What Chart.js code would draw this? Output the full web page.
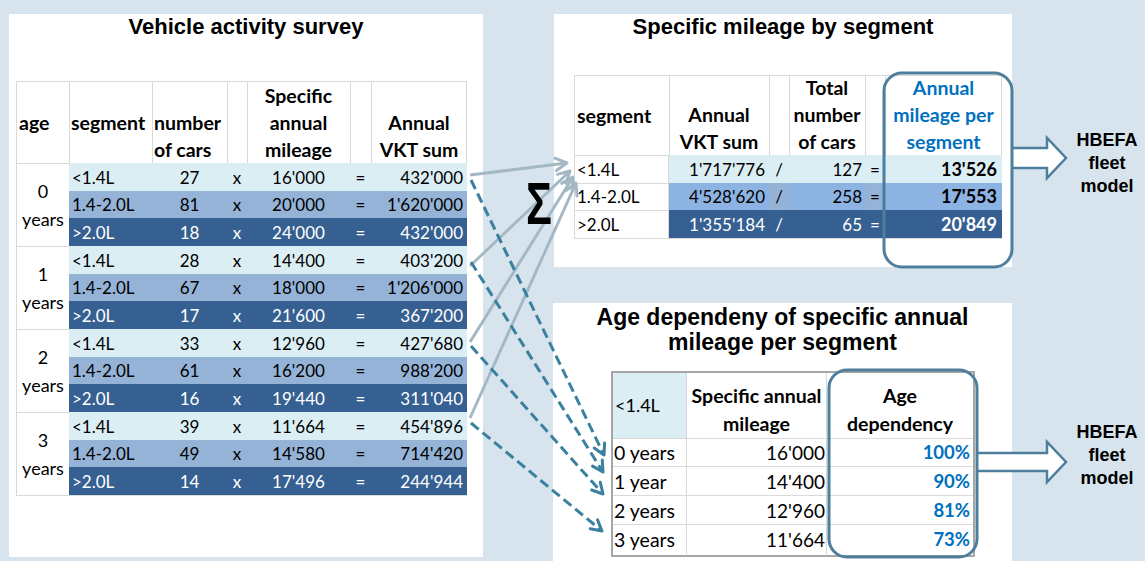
<!DOCTYPE html>
<html><head><meta charset="utf-8">
<script src="https://cdn.jsdelivr.net/npm/chart.js@4.4.1/dist/chart.umd.min.js"></script>
<style>
html,body{margin:0;padding:0;}
body{width:1145px;height:561px;background:#d7e4ed;position:relative;overflow:hidden;font-family:Lato,'Open Sans',sans-serif;}
#stage{position:absolute;left:0;top:0;width:1145px;height:561px;}
.panel{position:absolute;background:#fff;}
.title{position:absolute;font-family:'Liberation Sans',Arial,sans-serif;font-weight:bold;color:#000;text-align:center;white-space:nowrap;}
.c{position:absolute;box-sizing:border-box;display:flex;white-space:nowrap;font-size:17px;line-height:27px;color:#000;}
.frame{position:absolute;box-sizing:border-box;}
#ov{position:absolute;left:0;top:0;z-index:10;}
#sigma{z-index:20;}
</style></head><body>
<div id="stage"></div>
<canvas id="ov" width="1145" height="561" style="width:1145px;height:561px"></canvas>
<script>
// ---------------- data ----------------
const ageGroups = ['0', '1', '2', '3'];
const segmentNames = ['<1.4L', '1.4-2.0L', '>2.0L'];
const carCounts = [27, 81, 18, 28, 67, 17, 33, 61, 16, 39, 49, 14];
const specificMileage = [16000, 20000, 24000, 14400, 18000, 21600, 12960, 16200, 19440, 11664, 14580, 17496];
const annualVkt = [432000, 1620000, 432000, 403200, 1206000, 367200, 427680, 988200, 311040, 454896, 714420, 244944];
const segmentVktSum = [1717776, 4528620, 1355184];
const segmentCarTotal = [127, 258, 65];
const segmentMileage = [13526, 17553, 20849];
const ageRowLabels = ['0 years', '1 year', '2 years', '3 years'];
const smallSegmentMileage = [16000, 14400, 12960, 11664];
const ageDependency = [100, 90, 81, 73];

// ---------------- helpers ----------------
const W = 1145, H = 561;
const stage = document.getElementById('stage');
const fmt = n => String(n).replace(/\B(?=(\d{3})+(?!\d))/g, "'");
const GRID = '#d9d9d9';
const HEAD = 19.5;
const rowBg = ['#dbeef4', '#95b3d7', '#366092'];
const rowBgVal = ['#dbeef4', '#8db3e2', '#366092'];
const rowFg = ['#000', '#000', '#fff'];

function box(cls, x, y, w, h, html, css) {
  const d = document.createElement('div');
  d.className = cls;
  Object.assign(d.style, {left: x + 'px', top: y + 'px', width: w + 'px', height: h + 'px'}, css || {});
  if (html !== undefined) d.innerHTML = html;
  document.body.appendChild(d);
  return d;
}
function cell(x, y, w, h, text, o) {
  o = o || {};
  const ha = o.ha || 'left', va = o.va || 'middle';
  const css = {
    justifyContent: ha === 'left' ? 'flex-start' : ha === 'center' ? 'center' : 'flex-end',
    alignItems: va === 'bottom' ? 'flex-end' : 'center',
    textAlign: ha,
    background: o.bg || 'transparent',
    color: o.color || '#000',
    fontWeight: o.bold ? 'bold' : 'normal',
    paddingLeft: (o.pl || 0) + 'px',
    paddingRight: (o.pr || 0) + 'px'
  };
  if (o.size) css.fontSize = o.size + 'px';
  if (o.lh) css.lineHeight = o.lh + 'px';
  if (o.br) css.borderRight = o.br;
  if (o.bb) css.borderBottom = o.bb;
  if (o.bl) css.borderLeft = o.bl;
  return box('c', x, y, w, h, '<div>' + text + '</div>', css);
}
const esc = s => s.replace(/&/g, '&amp;').replace(/</g, '&lt;').replace(/>/g, '&gt;');

// ---------------- panels & titles ----------------
box('panel', 9, 14, 474, 543);
box('panel', 554, 14, 458, 253);
box('panel', 553, 303, 459, 258);
box('title', 9, 16, 474, 22, 'Vehicle activity survey', {fontSize: '22px', lineHeight: '22px'});
box('title', 554, 16, 458, 22, 'Specific mileage by segment', {fontSize: '22px', lineHeight: '22px'});
box('title', 553, 305, 459, 50, 'Age dependeny of specific annual<br>mileage per segment', {fontSize: '23px', lineHeight: '25px'});
box('title', 1060, 129, 94, 70, 'HBEFA<br>fleet<br>model', {fontSize: '18px', lineHeight: '23px'});
box('title', 1060, 421, 94, 70, 'HBEFA<br>fleet<br>model', {fontSize: '18px', lineHeight: '23px'});
box('title', 526, 174, 40, 60, '\u03A3', {fontSize: '60px', lineHeight: '60px', textAlign: 'left', transform: 'scaleX(0.72)', transformOrigin: 'left top'}).id = 'sigma';

// ---------------- left table: vehicle activity survey ----------------
const LT = {cols: [16, 69, 152, 227, 247, 350, 371, 467], top: 81, head: 163, bottom: 495};
const ltRowH = (LT.bottom - LT.head) / (ageGroups.length * segmentNames.length);
box('frame', LT.cols[0], LT.top, LT.cols[7] - LT.cols[0], LT.bottom - LT.top + 1, '', {border: '1px solid ' + GRID});
const ltHead = [
  {t: 'age', ha: 'left', va: 'middle', pl: 3},
  {t: 'segment', ha: 'left', va: 'middle', pl: 2},
  {t: 'number<br>of cars', ha: 'left', va: 'bottom', pl: 2},
  {t: ''},
  {t: 'Specific<br>annual<br>mileage', ha: 'center', va: 'bottom'},
  {t: ''},
  {t: 'Annual<br>VKT sum', ha: 'center', va: 'bottom'}
];
ltHead.forEach((h, c) => {
  cell(LT.cols[c], LT.top, LT.cols[c + 1] - LT.cols[c] + (c < 6 ? 1 : 0), LT.head - LT.top + 1, h.t,
    {ha: h.ha, va: h.va, pl: h.pl, bold: true, size: HEAD, br: c < 6 ? '1px solid ' + GRID : null, bb: '1px solid ' + GRID});
});
for (let r = 0; r < carCounts.length; r++) {
  const seg = r % segmentNames.length;
  const y0 = Math.round(LT.head + r * ltRowH), y1 = Math.round(LT.head + (r + 1) * ltRowH);
  const vals = [esc(segmentNames[seg]), carCounts[r], 'x', fmt(specificMileage[r]), '=', fmt(annualVkt[r])];
  const al = ['left', 'center', 'center', 'center', 'center', 'right'];
  for (let c = 1; c <= 6; c++) {
    cell(LT.cols[c], y0, LT.cols[c + 1] - LT.cols[c], y1 - y0, vals[c - 1],
      {ha: al[c - 1], bg: rowBg[seg], color: rowFg[seg], pl: c === 1 ? 3 : 0, pr: c === 6 ? 4 : 0});
  }
}
ageGroups.forEach((a, g) => {
  const n = segmentNames.length;
  const y0 = Math.round(LT.head + g * n * ltRowH), y1 = Math.round(LT.head + (g + 1) * n * ltRowH);
  cell(LT.cols[0], y0, LT.cols[1] - LT.cols[0], y1 - y0 + 1, a + '<br>years',
    {ha: 'center', lh: 28, size: 18, bb: '1px solid ' + GRID, bl: '1px solid ' + GRID});
});

// ---------------- top right table: specific mileage by segment ----------------
const ST = {cols: [574, 669, 769, 789, 865, 885, 1002], top: 75, head: 155, bottom: 238};
const stRowH = (ST.bottom - ST.head) / segmentNames.length;
box('frame', ST.cols[0], ST.top, ST.cols[6] - ST.cols[0], ST.bottom - ST.top + 1, '', {border: '1px solid ' + GRID});
const stHead = [
  {t: 'segment', ha: 'left', va: 'middle', pl: 3},
  {t: 'Annual<br>VKT sum', ha: 'center', va: 'bottom'},
  {t: ''},
  {t: 'Total<br>number<br>of cars', ha: 'center', va: 'bottom'},
  {t: ''},
  {t: 'Annual<br>mileage per<br>segment', ha: 'center', va: 'bottom', color: '#0070c0'}
];
stHead.forEach((h, c) => {
  cell(ST.cols[c], ST.top, ST.cols[c + 1] - ST.cols[c] + (c < 5 ? 1 : 0), ST.head - ST.top + 1, h.t,
    {ha: h.ha, va: h.va, pl: h.pl, bold: true, size: HEAD, color: h.color, br: c < 5 ? '1px solid ' + GRID : null, bb: '1px solid ' + GRID});
});
segmentNames.forEach((s, r) => {
  const y0 = Math.round(ST.head + r * stRowH), y1 = Math.round(ST.head + (r + 1) * stRowH);
  cell(ST.cols[0], y0, ST.cols[1] - ST.cols[0], y1 - y0 + 1, esc(s), {pl: 3, br: '1px solid ' + GRID, bb: '1px solid ' + GRID});
  const vals = [fmt(segmentVktSum[r]), '/', segmentCarTotal[r], '=', fmt(segmentMileage[r])];
  const al = ['right', 'center', 'right', 'center', 'right'];
  const pr = [4, 0, 3, 0, 5];
  for (let c = 1; c <= 5; c++) {
    const isSep = (c === 2 || c === 4);
    cell(ST.cols[c], y0, ST.cols[c + 1] - ST.cols[c], y1 - y0, vals[c - 1],
      {ha: al[c - 1], pr: pr[c - 1], bg: isSep ? rowBg[r] : rowBgVal[r], color: rowFg[r], bold: c === 5, size: c === 5 ? 18 : 17});
  }
});

// ---------------- bottom right table: age dependency ----------------
const AT = {cols: [611, 687, 827, 973], top: 371, head: 438, rowH: 29};
box('frame', AT.cols[0], AT.top, AT.cols[3] - AT.cols[0] + 2, AT.head - AT.top + AT.rowH * ageRowLabels.length + 3, '', {border: '2px solid #a6a6a6'});
cell(AT.cols[0] + 2, AT.top + 2, AT.cols[1] - AT.cols[0] - 2, AT.head - AT.top - 1, esc(segmentNames[0]),
  {bg: '#dbeef4', pl: 2, size: 18, br: '1px solid ' + GRID, bb: '1px solid ' + GRID});
cell(AT.cols[1], AT.top + 2, AT.cols[2] - AT.cols[1], AT.head - AT.top - 1, 'Specific annual<br>mileage',
  {ha: 'center', va: 'bottom', bold: true, size: HEAD, lh: 28, br: '1px solid ' + GRID, bb: '1px solid ' + GRID});
cell(AT.cols[2], AT.top + 2, AT.cols[3] - AT.cols[2], AT.head - AT.top - 1, 'Age<br>dependency',
  {ha: 'center', va: 'bottom', bold: true, size: HEAD, lh: 28, bb: '1px solid ' + GRID});
ageRowLabels.forEach((lab, r) => {
  const y0 = AT.head + r * AT.rowH;
  const last = r === ageRowLabels.length - 1;
  const bb = last ? null : '1px solid ' + GRID;
  cell(AT.cols[0] + 2, y0, AT.cols[1] - AT.cols[0] - 2, AT.rowH, lab, {pl: 1, size: 19.5, br: '1px solid ' + GRID, bb});
  cell(AT.cols[1], y0, AT.cols[2] - AT.cols[1], AT.rowH, fmt(smallSegmentMileage[r]), {ha: 'right', pr: 1, size: 19, br: '1px solid ' + GRID, bb});
  cell(AT.cols[2], y0, AT.cols[3] - AT.cols[2], AT.rowH, ageDependency[r] + '%', {ha: 'right', pr: 3, size: 18.5, bold: true, color: '#0070c0', bb});
});

// ---------------- connectors (Chart.js overlay) ----------------
const GREY = '#a3b8c4', TEAL = '#3a819f', FRAME = '#4d7f9c';
const srcX = LT.cols[7] + 4;
const sumSources = [175, 266, 342, 418];
const sumTips = [[567, 163], [570, 171], [573, 177], [576, 183]];
const ageSources = [180, 262, 346, 423];
const ageTips = [[604, 455], [603, 472], [603, 494], [602, 531]];

const datasets = [];
ageSources.forEach((y, i) => datasets.push({
  data: [{x: srcX, y: y}, {x: ageTips[i][0], y: ageTips[i][1]}],
  showLine: true, borderColor: TEAL, borderWidth: 3, borderDash: [10, 5], pointRadius: 0, tension: 0, head: 12
}));
sumSources.forEach((y, i) => datasets.push({
  data: [{x: srcX - 1, y: y}, {x: sumTips[i][0], y: sumTips[i][1]}],
  showLine: true, borderColor: GREY, borderWidth: 3, pointRadius: 0, tension: 0, head: 13
}));

const overlay = {
  id: 'overlay',
  afterDatasetsDraw(chart) {
    const ctx = chart.ctx;
    chart.data.datasets.forEach((ds, i) => {
      const pts = chart.getDatasetMeta(i).data;
      const a = pts[pts.length - 2], b = pts[pts.length - 1];
      const ang = Math.atan2(b.y - a.y, b.x - a.x);
      ctx.save();
      ctx.strokeStyle = ds.borderColor; ctx.lineWidth = ds.borderWidth; ctx.setLineDash([]);
      ctx.lineCap = 'round'; ctx.lineJoin = 'round';
      ctx.beginPath();
      ctx.moveTo(b.x - ds.head * Math.cos(ang - 0.5), b.y - ds.head * Math.sin(ang - 0.5));
      ctx.lineTo(b.x, b.y);
      ctx.lineTo(b.x - ds.head * Math.cos(ang + 0.5), b.y - ds.head * Math.sin(ang + 0.5));
      ctx.stroke();
      ctx.restore();
    });
  },
  afterDraw(chart) {
    const ctx = chart.ctx, sx = chart.scales.x, sy = chart.scales.y;
    const X = v => sx.getPixelForValue(v), Y = v => sy.getPixelForValue(v);
    function rrect(x0, y0, x1, y1, r) {
      ctx.save();
      ctx.strokeStyle = FRAME; ctx.lineWidth = 3;
      ctx.beginPath();
      ctx.roundRect(X(x0), Y(y0), X(x1) - X(x0), Y(y1) - Y(y0), r);
      ctx.stroke();
      ctx.restore();
    }
    function blockArrow(x0, xh, xt, ym, shaft, head) {
      const p = [[x0, ym - shaft], [xh, ym - shaft], [xh, ym - head], [xt, ym], [xh, ym + head], [xh, ym + shaft], [x0, ym + shaft]];
      ctx.save();
      ctx.beginPath();
      p.forEach((q, i) => i ? ctx.lineTo(X(q[0]), Y(q[1])) : ctx.moveTo(X(q[0]), Y(q[1])));
      ctx.closePath();
      ctx.fillStyle = '#fff'; ctx.fill();
      ctx.beginPath();
      p.forEach((q, i) => i ? ctx.lineTo(X(q[0]), Y(q[1])) : ctx.moveTo(X(q[0]), Y(q[1])));
      ctx.strokeStyle = FRAME; ctx.lineWidth = 2.5; ctx.lineJoin = 'miter'; ctx.stroke();
      ctx.restore();
    }
    blockArrow(1013, 1047, 1066, 158, 10, 20);
    blockArrow(978, 1047, 1066, 462, 9, 20);
    rrect(884, 73, 1012, 267, 18);
    rrect(829, 370, 977, 557, 18);
  }
};

new Chart(document.getElementById('ov'), {
  type: 'scatter',
  data: {datasets},
  options: {
    responsive: false, animation: false, events: [],
    layout: {padding: 0},
    plugins: {legend: {display: false}, tooltip: {enabled: false}},
    scales: {
      x: {type: 'linear', min: 0, max: W, display: false},
      y: {type: 'linear', min: 0, max: H, reverse: true, display: false}
    },
    elements: {line: {borderCapStyle: 'butt'}}
  },
  plugins: [overlay]
});
</script></body></html>
